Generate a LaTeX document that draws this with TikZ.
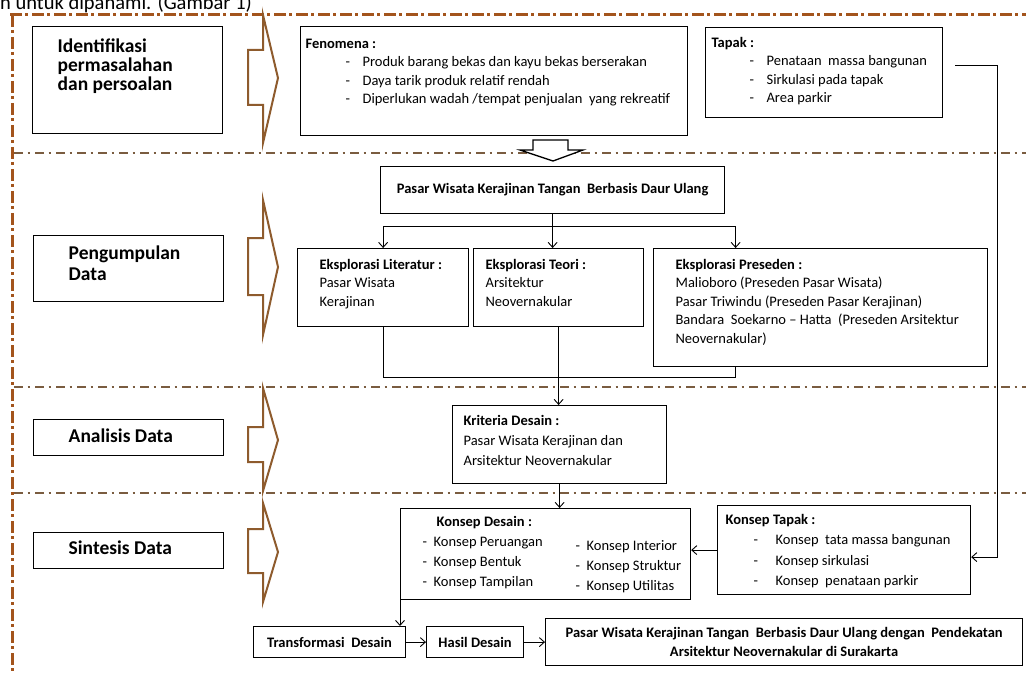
\documentclass[tikz,border=0pt]{standalone}
\usepackage{fontspec}
\setmainfont{Carlito}
\usetikzlibrary{arrows.meta,calc}
\definecolor{RustBrown}{HTML}{A3541C}
\definecolor{DustBrown}{HTML}{7A5C40}
\definecolor{ArrowBrown}{HTML}{8E5B2D}

% text block inside a box: width, height, top pad, left pad, lines
\newcommand{\cardtxt}[5]{\parbox[c][#2pt][t]{#1pt}{\vspace*{#3pt}\leftskip=#4pt\rightskip=0pt plus 1fil minus 300pt\parindent=0pt\rule{0pt}{.76em}#5}}
% dashed list item: indent, dash width, text
\newcommand{\itm}[3]{\hspace*{#1pt}\makebox[#2pt][l]{-}#3}
% brown stage arrow: top, shaft top, tip, shaft bottom, bottom
\newcommand{\stagearrow}[5]{\draw[stagearr] (263,#1) -- (278,#3) -- (263,#5) -- (263,#4) -- (248,#4) -- (248,#2) -- (263,#2) -- cycle;}

\tikzset{
  card/.style={draw,line width=1.2pt,inner sep=0pt,anchor=north west,font=\fontsize{14.5}{18.5}\selectfont},
  phase/.style={card,line width=1.4pt,font=\bfseries\fontsize{19.5}{19}\selectfont},
  flat/.style={draw,line width=1.2pt,inner sep=0pt,anchor=north west,align=center,font=\bfseries\fontsize{14.5}{19}\selectfont},
  link/.style={line width=0.9pt},
  border/.style={RustBrown,line width=3pt,dash pattern=on 12pt off 3pt on 3pt off 4pt},
  divider/.style={DustBrown,line width=2pt,dash pattern=on 9pt off 4.5pt on 2.5pt off 5pt},
  stagearr/.style={ArrowBrown,line width=2pt,fill=white,line join=miter}
}

\begin{document}
\begin{tikzpicture}[x=1pt,y=-1pt,>={Straight Barb[length=5pt,width=9pt]}]
  \useasboundingbox (0,0) rectangle (1026,674);
  \node[anchor=base west,inner sep=0pt,font=\fontsize{20.5}{24}\selectfont] (cap) at (0,9.5) {n untuk dipahami. (Gambar 1)};

  % frame and phase dividers
  \draw[border] (10,15) -- (1026,15);
  \draw[border] (12,15) -- (12,674);
  \foreach \y in {153,387,493}
    \draw[divider] (14,\y) -- (1026,\y);

  % phases on the left
  \node[phase] (idf) at (32,26) {\cardtxt{190}{107}{10.5}{25}{Identifikasi\\permasalahan\\dan persoalan}};
  \node[phase,font=\bfseries\fontsize{19.5}{21}\selectfont] (pgd) at (33,235) {\cardtxt{190}{66}{8.5}{35}{Pengumpulan\\Data}};
  \node[phase] (anl) at (33,419) {\cardtxt{190}{36}{7.5}{35}{Analisis Data}};
  \node[phase] (sin) at (33,532) {\cardtxt{190}{36}{6.5}{35}{Sintesis Data}};

  \stagearrow{15}{50}{78}{105}{143}
  \stagearrow{200}{238}{267}{295}{335}
  \stagearrow{388}{427}{440}{462}{491}
  \stagearrow{503}{529}{552}{573}{602}

  % identification
  \node[card] (fen) at (300,26) {\cardtxt{387}{109}{10.5}{5}{\textbf{Fenomena :}\\
    \itm{40}{17}{Produk barang bekas dan kayu bekas berserakan}\\
    \itm{40}{17}{Daya tarik produk relatif rendah}\\
    \itm{40}{17}{Diperlukan wadah /tempat penjualan \ yang rekreatif}}};
  \node[card] (tap) at (705,27) {\cardtxt{237}{90}{8.7}{6}{\textbf{Tapak :}\\
    \itm{38}{17}{Penataan \ massa bangunan}\\
    \itm{38}{17}{Sirkulasi pada tapak}\\
    \itm{38}{17}{Area parkir}}};
  \draw[line width=1.3pt,fill=white] (533,140) -- (568,140) -- (568,150) -- (583,150) -- (553,161) -- (520,150) -- (533,150) -- cycle;

  % data collection
  \node[flat,minimum width=344pt,minimum height=47pt] (pas) at (380,166) {Pasar Wisata Kerajinan Tangan \ Berbasis Daur Ulang};
  \node[card] (lit) at (297,248) {\cardtxt{171}{78}{9.7}{22}{\textbf{Eksplorasi Literatur :}\\Pasar Wisata\\Kerajinan}};
  \node[card] (teo) at (473,248) {\cardtxt{170}{78}{9.7}{12}{\textbf{Eksplorasi Teori :}\\Arsitektur\\Neovernakular}};
  \node[card] (pre) at (653,248) {\cardtxt{334}{118}{9.7}{22}{\textbf{Eksplorasi Preseden :}\\
    Malioboro (Preseden Pasar Wisata)\\
    Pasar Triwindu (Preseden Pasar Kerajinan)\\
    Bandara \ Soekarno -- Hatta \ (Preseden Arsitektur\\
    Neovernakular)}};

  % analysis
  \node[card,font=\fontsize{14.5}{20}\selectfont] (kri) at (452,405) {\cardtxt{214}{78}{8.7}{11}{\textbf{Kriteria Desain :}\\Pasar Wisata Kerajinan dan\\Arsitektur Neovernakular}};

  % synthesis
  \node[card,font=\fontsize{14.5}{20}\selectfont] (kds) at (400,508) {\cardtxt{290}{91}{6.7}{0}{\hspace*{36pt}\textbf{Konsep Desain :}\\
    \hspace*{22pt}\parbox[t]{153pt}{\itm{0}{11}{Konsep Peruangan}\\\itm{0}{11}{Konsep Bentuk}\\\itm{0}{11}{Konsep Tampilan}}%
    \raisebox{-4.5pt}{\parbox[t]{118pt}{\itm{0}{11}{Konsep Interior}\\\itm{0}{11}{Konsep Struktur}\\\itm{0}{11}{Konsep Utilitas}}}}};
  \node[card,font=\fontsize{14.5}{20.5}\selectfont] (kta) at (717,505) {\cardtxt{253}{89}{7.7}{8}{\textbf{Konsep Tapak :}\\
    \itm{28}{22}{Konsep \ tata massa bangunan}\\
    \itm{28}{22}{Konsep sirkulasi}\\
    \itm{28}{22}{Konsep \ penataan parkir}}};
  \node[flat,minimum width=152pt,minimum height=31pt] (trf) at (253,626) {Transformasi \ Desain};
  \node[flat,minimum width=97pt,minimum height=31pt] (has) at (426,626) {Hasil Desain};
  \node[flat,minimum width=477pt,minimum height=47pt] (fin) at (545,618) {Pasar Wisata Kerajinan Tangan \ Berbasis Daur Ulang dengan \ Pendekatan\\Arsitektur Neovernakular di Surakarta};

  % connectors
  \draw[link] (pas.south) -- ++(0,12) coordinate (fork);
  \draw[link,->] (fork) -| (lit.north);
  \draw[link,->] (fork) -- (fork |- teo.north);
  \draw[link,->] (fork) -| ([xshift=-85pt]pre.north);
  \draw[link] (lit.south) -- ++(0,50) coordinate (join) -| ([xshift=-85pt]pre.south);
  \draw[link,->] (teo.south) -- (teo.south |- kri.north);
  \draw[link,->] (kri.south) -- (kri.south |- kds.north);
  \coordinate (tapout) at (955,65);
  \draw[link,->] (tapout) -- ++(42,0) |- ([yshift=-7pt]kta.east);
  \draw[link,->] (kta.west) -- (kta.west -| kds.east);
  \draw[link,->] (kds.south west) -- (kds.south west |- trf.north);
  \draw[link,->] (trf) -- (has);
  \draw[link,->] (has) -- (fin);
\end{tikzpicture}
\end{document}
